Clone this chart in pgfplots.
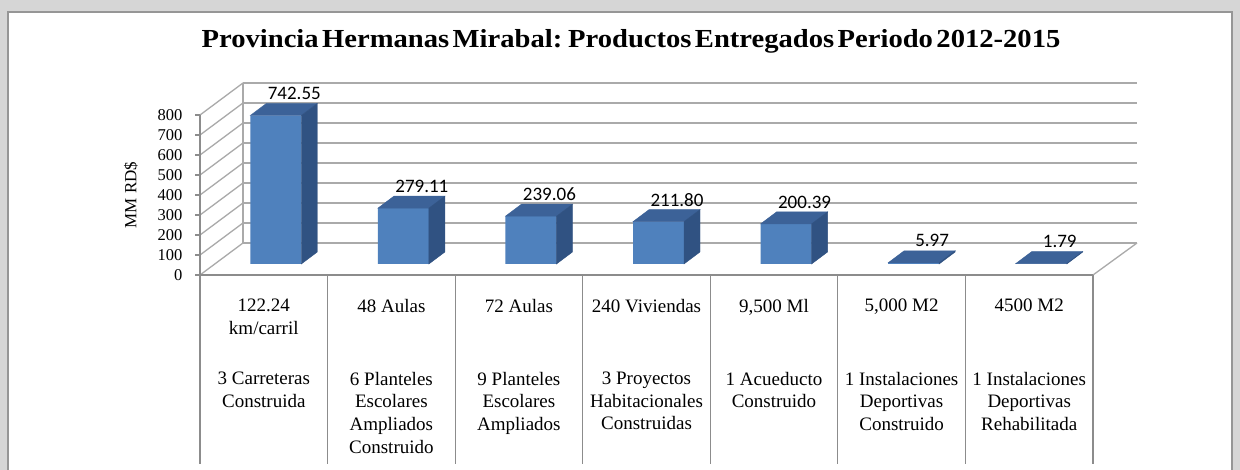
\documentclass[border=0pt]{standalone}
\usepackage{pgfplots}
\pgfplotsset{compat=1.18}
\usepackage{pgfplotstable}
\usepackage{fontspec}
\setmainfont{Liberation Serif}
\newfontfamily\lblfont{Carlito}

\definecolor{bgmarble}{RGB}{214,214,214}
\definecolor{framegray}{RGB}{150,150,150}
\definecolor{gridgray}{RGB}{170,170,170}
\definecolor{tablegray}{RGB}{140,140,140}
\definecolor{barfront}{RGB}{79,129,189}
\definecolor{bartop}{RGB}{60,98,152}
\definecolor{barside}{RGB}{48,82,130}

\pgfplotstableread{
x v
0 742.55
1 279.11
2 239.06
3 211.80
4 200.39
5 5.97
6 1.79
}\data

\pgfdeclareplotmark{empty}{}

\newcommand{\tfont}{\fontsize{19}{22.6}\selectfont}

\begin{document}
\begin{tikzpicture}[x=1pt,y=1pt]
\useasboundingbox (0,0) rectangle (1240,470);
\fill[bgmarble] (0,0) rectangle (1240,470);
\filldraw[fill=white, draw=framegray, line width=1.2pt] (8,-10) rectangle (1232,458);

\node[font=\bfseries\fontsize{26}{30}\selectfont, inner sep=0] at (631,429)
  {\scalebox{1.1}[1]{\spaceskip=0.12em Provincia Hermanas Mirabal: Productos Entregados Periodo 2012-2015}};

% back wall gridlines
\begin{axis}[at={(243pt,227pt)}, anchor=south west, scale only axis,
  width=894pt, height=160pt, xmin=0, xmax=1, ymin=0, ymax=800,
  ytick distance=100, xtick=\empty, yticklabels={},
  ymajorgrids, grid style={gridgray, line width=1.6pt},
  axis line style={draw=none}, major tick length=0pt]
\end{axis}

% side wall diagonals and floor
\foreach \k in {0,...,8} \draw[gridgray, line width=1.3pt] (200,195+20*\k) -- (243,227+20*\k);
\draw[gridgray, line width=1.3pt] (243,227) -- (243,387);
\draw[gridgray, line width=1.3pt] (1093,195) -- (1137,227);

% data table lines
\foreach \k in {0,...,7} \draw[tablegray, line width=1.2pt] ({200+\k*127.57},195) -- ({200+\k*127.57},6);
\draw[tablegray, line width=1.2pt] (200,195) -- (1093,195);

% front axis with tick labels
\begin{axis}[at={(200pt,195pt)}, anchor=south west, scale only axis,
  width=893pt, height=160pt, xmin=-0.5, xmax=6.5, ymin=0, ymax=800,
  ytick distance=100, xtick=\empty,
  axis x line=none, axis y line*=left,
  axis line style={tablegray, line width=1.2pt},
  y tick style={tablegray, line width=1.2pt},
  tick align=outside, major tick length=5pt,
  /pgf/number format/assume math mode=true,
  yticklabel style={font=\fontsize{16.5}{16.5}\selectfont, anchor=east, xshift=-9pt},
  ylabel={MM RD\$},
  ylabel style={at={(rel axis cs:-0.0773,0.5)}, anchor=center,
    font=\fontsize{17}{17}\selectfont},
  clip=false]
\end{axis}

% bars (plane of the bar fronts)
\begin{axis}[at={(212pt,206pt)}, anchor=south west, scale only axis,
  width=893pt, height=160pt, xmin=-0.5, xmax=6.5, ymin=0, ymax=800,
  hide axis, clip=false]
\addplot[ybar, bar width=51pt, fill=barfront, draw=none] table[x=x,y=v]{\data};
\addplot[scatter, only marks, mark=empty,
  visualization depends on={0.2*\thisrow{v} \as \h},
  scatter/@pre marker code/.code={%
    \fill[bartop] (-25.5pt,0pt) -- (25.5pt,0pt) -- (41.5pt,12pt) -- (-9.5pt,12pt) -- cycle;
    \fill[barside] (25.5pt,0pt) -- (41.5pt,12pt) -- (41.5pt,12pt-\h*1pt) -- (25.5pt,-\h*1pt) -- cycle;
  },
  scatter/@post marker code/.code={}
] table[x=x,y=v]{\data};
\addplot[draw=none, mark=none, point meta=explicit,
  /pgf/number format/assume math mode=true,
  nodes near coords={\pgfmathprintnumber[fixed,precision=2,fixed zerofill]{\pgfplotspointmeta}},
  every node near coord/.append style={font=\lblfont\fontsize{19}{19}\selectfont,
    anchor=center, xshift=18.5pt, yshift=22pt, text=black, inner sep=0pt}
] table[x=x,y=v,meta=v]{\data};
\end{axis}

% table text
\begin{scope}[every node/.style={anchor=north, align=center, font=\tfont, inner sep=0pt}]
\node at (263.8,171) {122.24\\km/carril};
\node at (263.8,98) {3 Carreteras\\Construida};
\node at (391.4,171) {48 Aulas};
\node at (391.4,98) {6 Planteles\\Escolares\\Ampliados\\Construido};
\node at (518.9,171) {72 Aulas};
\node at (518.9,98) {9 Planteles\\Escolares\\Ampliados};
\node at (646.5,171) {240 Viviendas};
\node at (646.5,98) {3 Proyectos\\Habitacionales\\Construidas};
\node at (774.0,171) {9,500 Ml};
\node at (774.0,98) {1 Acueducto\\Construido};
\node at (901.6,171) {5,000 M2};
\node at (901.6,98) {1 Instalaciones\\Deportivas\\Construido};
\node at (1029.2,171) {4500 M2};
\node at (1029.2,98) {1 Instalaciones\\Deportivas\\Rehabilitada};
\end{scope}
\end{tikzpicture}
\end{document}
